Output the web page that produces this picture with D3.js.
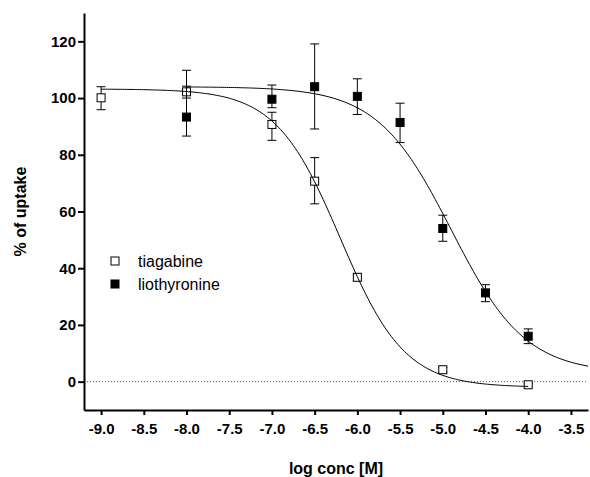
<!DOCTYPE html>
<html>
<head>
<meta charset="utf-8">
<script src="https://cdn.jsdelivr.net/npm/d3@7"></script>
<style>
  body { margin: 0; background: #fff; }
  text { font-family: "Liberation Sans", Arial, sans-serif; fill: #000; }
</style>
</head>
<body>
<div id="chart"></div>
<script>
// log concentrations and mean % uptake with error (low/high)
const tiagabineX = [-9.0, -8.0, -7.0, -6.5, -6.0, -5.0, -4.0];
const tiagabineY = [100.1, 102.2, 90.7, 70.7, 36.8, 4.2, -1.1];
const tiagabineLo = [95.9, 100.0, 85.1, 62.7, 35.6, 3.4, -1.6];
const tiagabineHi = [104.0, 104.2, 95.0, 79.0, 38.0, 5.0, -0.6];

const liothyronineX = [-8.0, -7.0, -6.5, -6.0, -5.5, -5.0, -4.5, -4.0];
const liothyronineY = [93.3, 99.6, 104.0, 100.6, 91.4, 54.0, 31.3, 16.0];
const liothyronineLo = [86.6, 96.6, 89.1, 94.2, 84.3, 49.5, 28.2, 13.4];
const liothyronineHi = [109.8, 104.6, 119.1, 106.8, 98.2, 58.7, 34.2, 18.6];

// fitted dose-response curves: [top, bottom, logIC50, hill, fromX, toX]
const tiagabineFit = [103.2, -2.0, -6.2, 1.15, -9.0, -4.0];
const liothyronineFit = [104.0, 3.0, -4.9, 1.0, -8.0, -3.3];

const xTicks = [-9.0, -8.5, -8.0, -7.5, -7.0, -6.5, -6.0, -5.5, -5.0, -4.5, -4.0, -3.5];
const yTicks = [0, 20, 40, 60, 80, 100, 120];

const width = 590;
const height = 477;
const margin = { top: 13, right: 2, bottom: 67, left: 84 };

const svg = d3.select("#chart")
  .append("svg")
  .attr("width", width)
  .attr("height", height);

const x = d3.scaleLinear()
  .domain([-9.2, -3.3])
  .range([margin.left, width - margin.right]);

const y = d3.scaleLinear()
  .domain([-10, 130])
  .range([height - margin.bottom, margin.top]);

// zero line
svg.append("line")
  .attr("x1", x(-9.2)).attr("x2", x(-3.3))
  .attr("y1", y(0)).attr("y2", y(0))
  .attr("stroke", "#555")
  .attr("stroke-width", 1)
  .attr("stroke-dasharray", "1,2");

// axes
const xAxis = svg.append("g")
  .attr("transform", `translate(0, ${height - margin.bottom})`)
  .call(d3.axisBottom(x).tickValues(xTicks).tickFormat(d3.format(".1f")).tickSize(5).tickSizeOuter(0));

const yAxis = svg.append("g")
  .attr("transform", `translate(${margin.left}, 0)`)
  .call(d3.axisLeft(y).tickValues(yTicks).tickSize(6).tickSizeOuter(0));

[xAxis, yAxis].forEach(g => {
  g.select(".domain").attr("stroke", "#000").attr("stroke-width", 2);
  g.selectAll(".tick line").attr("stroke", "#000").attr("stroke-width", 2);
  g.selectAll(".tick text")
    .attr("fill", "#000")
    .style("font-family", "'Liberation Sans', Arial, sans-serif")
    .style("font-size", "15px")
    .style("font-weight", "bold");
});
xAxis.selectAll(".tick text").attr("y", 13).attr("dy", "0.71em").text(d => d3.format(".1f")(d).replace("−", "-"));
yAxis.selectAll(".tick text").attr("x", -8);

// axis titles
svg.append("text")
  .attr("x", (margin.left + width - margin.right) / 2)
  .attr("y", 474)
  .attr("text-anchor", "middle")
  .style("font-size", "16px")
  .style("font-weight", "bold")
  .text("log conc [M]");

svg.append("text")
  .attr("transform", `translate(26, ${(margin.top + height - margin.bottom) / 2}) rotate(-90)`)
  .attr("text-anchor", "middle")
  .style("font-size", "16px")
  .style("font-weight", "bold")
  .text("% of uptake");

const series = [
  { name: "tiagabine", xs: tiagabineX, ys: tiagabineY, lo: tiagabineLo, hi: tiagabineHi, fit: tiagabineFit, fill: "#fff" },
  { name: "liothyronine", xs: liothyronineX, ys: liothyronineY, lo: liothyronineLo, hi: liothyronineHi, fit: liothyronineFit, fill: "#000" }
];

const capW = 4.5;
const sq = 8;

series.forEach(s => {
  const pts = s.xs.map((d, i) => ({ x: d, y: s.ys[i], lo: s.lo[i], hi: s.hi[i] }));
  const g = svg.append("g");

  g.selectAll("path.err")
    .data(pts)
    .join("path")
    .attr("class", "err")
    .attr("fill", "none")
    .attr("stroke", "#000")
    .attr("stroke-width", 1)
    .attr("d", d => `M${x(d.x) - capW},${y(d.hi)}H${x(d.x) + capW}M${x(d.x)},${y(d.hi)}V${y(d.lo)}M${x(d.x) - capW},${y(d.lo)}H${x(d.x) + capW}`);

  g.selectAll("rect")
    .data(pts)
    .join("rect")
    .attr("x", d => x(d.x) - sq / 2)
    .attr("y", d => y(d.y) - sq / 2)
    .attr("width", sq)
    .attr("height", sq)
    .attr("fill", s.fill)
    .attr("stroke", "#000")
    .attr("stroke-width", 1);
});

// fitted curves on top
series.forEach(s => {
  const [top, bottom, ic50, hill, x0, x1] = s.fit;
  const f = v => bottom + (top - bottom) / (1 + Math.pow(10, (v - ic50) * hill));
  const curve = d3.range(0, 201).map(i => x0 + (x1 - x0) * i / 200);
  svg.append("path")
    .datum(curve)
    .attr("fill", "none")
    .attr("stroke", "#000")
    .attr("stroke-width", 1)
    .attr("d", d3.line().x(d => x(d)).y(d => y(f(d))));
});

// legend
const legend = svg.append("g").attr("transform", "translate(115, 261)");
series.forEach((s, i) => {
  legend.append("rect")
    .attr("x", -4).attr("y", i * 23 - 4)
    .attr("width", sq).attr("height", sq)
    .attr("fill", s.fill)
    .attr("stroke", "#000");
  legend.append("text")
    .attr("x", 23).attr("y", i * 23 + 6)
    .style("font-size", "16px")
    .text(s.name);
});
</script>
</body>
</html>
